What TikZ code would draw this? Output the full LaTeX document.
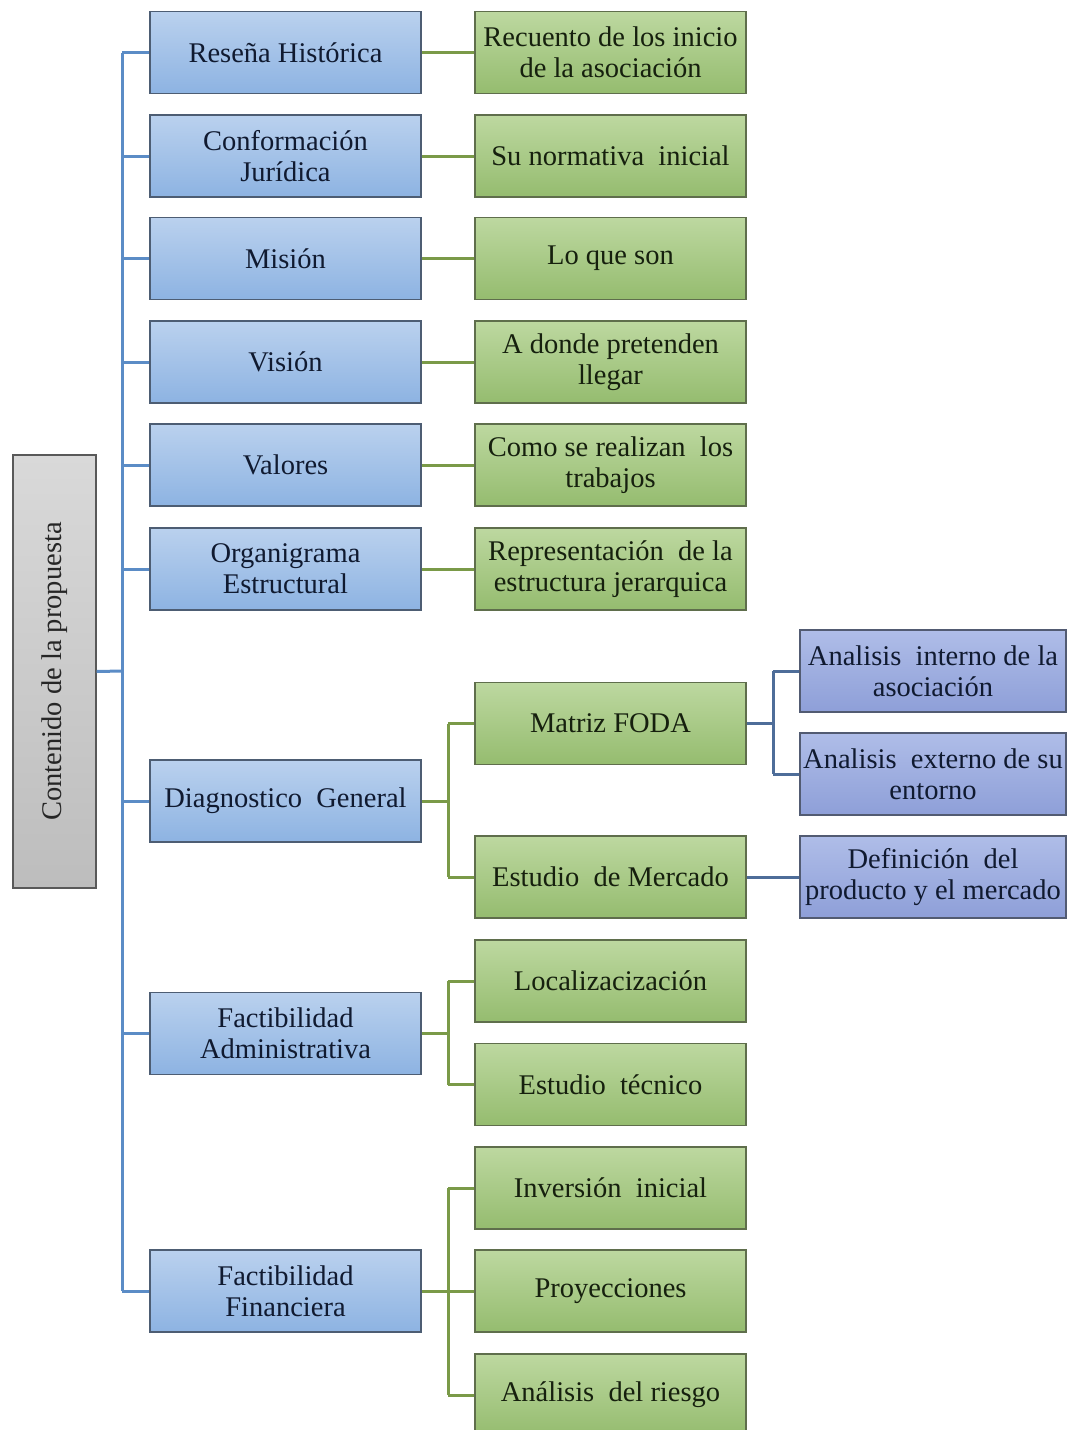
\documentclass[tikz,border=0pt]{standalone}
\usepackage{fontspec}
\setmainfont{Liberation Serif}
\usepackage{graphicx}
% a slightly wider gap between words
\newcommand\wgap{\hspace{0.25em}}
\begin{document}
\begin{tikzpicture}[x=1pt,y=-1pt,
  every node/.style={font=\fontsize{28.5}{31}\selectfont, align=center, inner sep=2pt},
  basebox/.style={rectangle, line width=1.2pt, minimum width=271pt, minimum height=82pt},
  bluebox/.style={basebox, draw=blueEdge, top color=blueTop, bottom color=blueBot, text=textBlue},
  greenbox/.style={basebox, draw=greenEdge, top color=greenTop, bottom color=greenBot, text=textGreen},
  violetbox/.style={basebox, minimum width=266pt, draw=violetEdge, top color=violetTop, bottom color=violetBot, text=textBlue},
  rootbox/.style={rectangle, line width=1.2pt, draw=gray!70!black, minimum width=83pt, minimum height=433pt, top color=grayTop, bottom color=grayBot, text=black!85},
  blueline/.style={draw=lineBlue, line width=3pt},
  greenline/.style={draw=lineGreen, line width=3pt},
  slateline/.style={draw=lineSlate, line width=3pt}
]
\definecolor{blueTop}{HTML}{BAD1EE}
\definecolor{blueBot}{HTML}{8DB3E2}
\definecolor{blueEdge}{HTML}{4D5D73}
\definecolor{greenTop}{HTML}{BDD8A0}
\definecolor{greenBot}{HTML}{95BC6F}
\definecolor{greenEdge}{HTML}{5F6E4C}
\definecolor{violetTop}{HTML}{AFBDE8}
\definecolor{violetBot}{HTML}{8E9FD8}
\definecolor{violetEdge}{HTML}{525B72}
\definecolor{grayTop}{HTML}{D9D9D9}
\definecolor{grayBot}{HTML}{BDBDBD}
\definecolor{textBlue}{HTML}{101A30}
\definecolor{textGreen}{HTML}{16200E}
\definecolor{lineBlue}{HTML}{5B8CC6}
\definecolor{lineGreen}{HTML}{7A9A48}
\definecolor{lineSlate}{HTML}{4E6D99}

\useasboundingbox (0,0) rectangle (1067,1430);

% root
\node[rootbox] (root) at (54.5,671.5) {\rotatebox{90}{Contenido de la propuesta}};

% first level
\node[bluebox] (r1) at (285.5,52.5) {Reseña Histórica};
\node[bluebox] (r2) at (285.5,156) {Conformación\\Jurídica};
\node[bluebox] (r3) at (285.5,258.5) {Misión};
\node[bluebox] (r4) at (285.5,362) {Visión};
\node[bluebox] (r5) at (285.5,465) {Valores};
\node[bluebox] (r6) at (285.5,569) {Organigrama\\Estructural};
\node[bluebox] (r7) at (285.5,801) {Diagnostico\ \wgap General};
\node[bluebox] (r8) at (285.5,1033.5) {Factibilidad\\Administrativa};
\node[bluebox] (r9) at (285.5,1291) {Factibilidad\\Financiera};

% second level
\node[greenbox] (g1) at (610.5,52.5) {Recuento de los inicio\\de la asociación};
\node[greenbox] (g2) at (610.5,156) {Su normativa\wgap{} inicial};
\node[greenbox] (g3) at (610.5,258.5) {Lo que son};
\node[greenbox] (g4) at (610.5,362) {A donde pretenden\\llegar};
\node[greenbox] (g5) at (610.5,465) {Como se realizan\wgap{} los\\trabajos};
\node[greenbox] (g6) at (610.5,569) {Representación\wgap{} de la\\estructura jerarquica};
\node[greenbox] (g7) at (610.5,723.5) {Matriz FODA};
\node[greenbox] (g8) at (610.5,877) {Estudio\wgap{} de Mercado};
\node[greenbox] (g9) at (610.5,981) {Localizacización};
\node[greenbox] (g10) at (610.5,1084.5) {Estudio\wgap{} técnico};
\node[greenbox] (g11) at (610.5,1188) {Inversión\wgap{} inicial};
\node[greenbox] (g12) at (610.5,1291) {Proyecciones};
\node[greenbox] (g13) at (610.5,1395) {Análisis\ \wgap del riesgo};

% third level
\node[violetbox] (v1) at (933,671) {Analisis\ \wgap interno de la\\asociación};
\node[violetbox] (v2) at (933,774) {Analisis\ \wgap externo de su\\entorno};
\node[violetbox] (v3) at (933,877) {Definición\ \wgap del\\producto y el mercado};

% trunk from the root to every first-level box
\coordinate (trunk) at (122,671);
\draw[blueline] (root.east) -- (trunk);
\draw[blueline] (trunk |- r1) -- (trunk |- r9);
\foreach \n in {r1,r2,r3,r4,r5,r6,r7,r8,r9}
  \draw[blueline] (trunk |- \n) -- (\n.west);

% one-to-one links
\foreach \a/\b in {r1/g1,r2/g2,r3/g3,r4/g4,r5/g5,r6/g6}
  \draw[greenline] (\a.east) -- (\b.west);

% branching links
\coordinate (split) at (448,0);
\draw[greenline] (r7.east) -- (split |- r7);
\draw[greenline] (split |- g7) -- (split |- g8);
\draw[greenline] (split |- g7) -- (g7.west);
\draw[greenline] (split |- g8) -- (g8.west);

\draw[greenline] (r8.east) -- (split |- r8);
\draw[greenline] (split |- g9) -- (split |- g10);
\draw[greenline] (split |- g9) -- (g9.west);
\draw[greenline] (split |- g10) -- (g10.west);

\draw[greenline] (r9.east) -- (g12.west);
\draw[greenline] (split |- g11) -- (split |- g13);
\draw[greenline] (split |- g11) -- (g11.west);
\draw[greenline] (split |- g13) -- (g13.west);

% FODA branches
\coordinate (fork) at (773,0);
\draw[slateline] (g7.east) -- (fork |- g7);
\draw[slateline] (fork |- v1) -- (fork |- v2);
\draw[slateline] (fork |- v1) -- (v1.west);
\draw[slateline] (fork |- v2) -- (v2.west);
\draw[slateline] (g8.east) -- (v3.west);
\end{tikzpicture}
\end{document}
